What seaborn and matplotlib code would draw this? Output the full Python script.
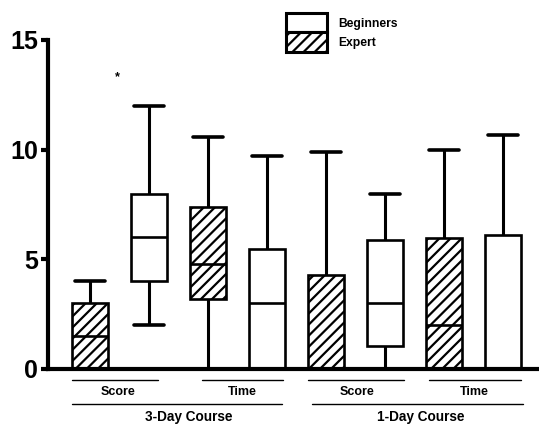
import numpy as np
import pandas as pd
import seaborn as sns
import matplotlib.pyplot as plt
from matplotlib.patches import Patch

# five-number summaries, one per box (left to right)
slots = ["3d_score_exp", "3d_score_beg", "3d_time_exp", "3d_time_beg",
         "1d_score_exp", "1d_score_beg", "1d_time_exp", "1d_time_beg"]
groups = ["Expert", "Beginners", "Expert", "Beginners",
          "Expert", "Beginners", "Expert", "Beginners"]
box_min = [0, 2, 0, 0, 0, 0, 0, 0]
box_q1 = [0, 4, 3.2, 0, 0, 1.05, 0, 0]
box_median = [1.5, 6, 4.8, 3.0, 0, 3.0, 2.0, 0]
box_q3 = [3.0, 8.0, 7.4, 5.45, 4.3, 5.9, 5.95, 6.1]
box_max = [4.0, 12.0, 10.6, 9.7, 9.9, 8.0, 10.0, 10.65]

measure_labels = ["Score", "Time", "Score", "Time"]
course_labels = ["3-Day Course", "1-Day Course"]
star_value = 13.3

rows = []
for i, s in enumerate(slots):
    for v in [box_min[i], box_q1[i], box_median[i], box_q3[i], box_max[i]]:
        rows.append({"slot": s, "group": groups[i], "value": v})
df = pd.DataFrame(rows)

sns.set_style("ticks")
plt.rcParams['font.family'] = ['Liberation Sans', 'DejaVu Sans']
plt.rcParams['font.weight'] = 'bold'
plt.rcParams['text.color'] = 'black'
plt.rcParams['ytick.color'] = 'black'
plt.rcParams['axes.edgecolor'] = 'black'
plt.rcParams['hatch.linewidth'] = 1.6

fig = plt.figure(figsize=(5.39, 4.25), dpi=100)
ax = fig.add_axes([48 / 539, 56 / 425, 1 - 48 / 539, 329 / 425])

common = dict(x="slot", y="value", order=slots, whis=(0, 100), width=0.61,
              color="white", linecolor="black", linewidth=1.9,
              showfliers=False, capwidths=0.51,
              whiskerprops={"linewidth": 2.2},
              capprops={"linewidth": 2.6},
              ax=ax)

sns.boxplot(data=df[df.group == "Expert"], **common)
n_exp = len(ax.patches)
sns.boxplot(data=df[df.group == "Beginners"], **common)

for i, p in enumerate(ax.patches):
    p.set_facecolor("white")
    p.set_edgecolor("black")
    if i < n_exp:
        p.set_hatch("///")

ax.text(0.46, star_value, "*", ha="center", va="center", fontsize=9)

ax.set_ylim(0, 15)
ax.set_xlim(-0.71, 7.61)
ax.set_yticks([0, 5, 10, 15])
ax.set_yticklabels(["0", "5", "10", "15"], fontsize=18, fontweight="bold")
ax.set_xticks([])
ax.set_xlabel("")
ax.set_ylabel("")
ax.tick_params(axis="y", width=3, length=5, pad=2, colors="black")
for side in ["top", "right"]:
    ax.spines[side].set_visible(False)
ax.spines["left"].set_linewidth(3)
ax.spines["bottom"].set_linewidth(3)

# bracket labels under the axis
tr = ax.get_xaxis_transform()
brackets = [(-0.31, 1.15), (1.90, 3.28), (3.70, 5.32), (5.74, 7.31)]
centers = [0.48, 2.58, 4.52, 6.52]
for (a, b), c, lab in zip(brackets, centers, measure_labels):
    ax.plot([a, b], [-0.033, -0.033], transform=tr, clip_on=False, color="black", lw=1)
    ax.text(c, -0.07, lab, transform=tr, ha="center", va="center", fontsize=9, fontweight="bold")

course_br = [(-0.31, 3.26), (3.77, 7.34)]
course_c = [1.68, 5.6]
for (a, b), c, lab in zip(course_br, course_c, course_labels):
    ax.plot([a, b], [-0.106, -0.106], transform=tr, clip_on=False, color="black", lw=1)
    ax.text(c, -0.146, lab, transform=tr, ha="center", va="center", fontsize=9.8, fontweight="bold")

handles = [Patch(facecolor="white", edgecolor="black", linewidth=2.2),
           Patch(facecolor="white", edgecolor="black", linewidth=2.2, hatch="///")]
fig.legend(handles, ["Beginners", "Expert"], loc="upper left",
           bbox_to_anchor=(280 / 539, 1 - 7 / 425), frameon=False,
           prop={"size": 8.7, "weight": "bold"}, labelspacing=0,
           handleheight=2.1, handlelength=3.4, handletextpad=0.9, borderpad=0)

fig.savefig("out.png", dpi=100)
